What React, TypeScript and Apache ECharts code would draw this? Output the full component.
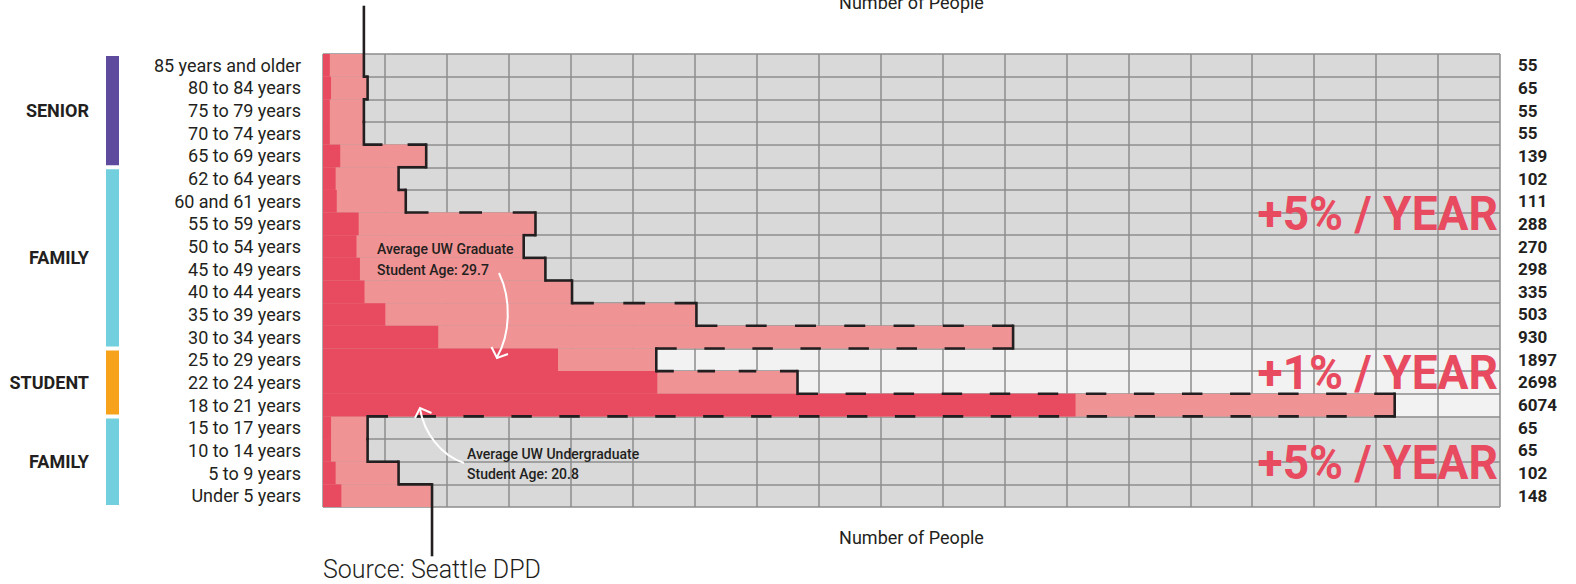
import React, { useEffect, useRef } from "react";
import * as echarts from "echarts";

// ---------- data ----------
const ageGroups = [
  "85 years and older",
  "80 to 84 years",
  "75 to 79 years",
  "70 to 74 years",
  "65 to 69 years",
  "62 to 64 years",
  "60 and 61 years",
  "55 to 59 years",
  "50 to 54 years",
  "45 to 49 years",
  "40 to 44 years",
  "35 to 39 years",
  "30 to 34 years",
  "25 to 29 years",
  "22 to 24 years",
  "18 to 21 years",
  "15 to 17 years",
  "10 to 14 years",
  "5 to 9 years",
  "Under 5 years",
];

// current number of people (dark bars, numbers on the right)
const currentPeople = [55, 65, 55, 55, 139, 102, 111, 288, 270, 298, 335, 503, 930, 1897, 2698, 6074, 65, 65, 102, 148];

// projected number of people (light bars + dashed outline)
const projectedPeople = [330, 360, 330, 330, 833, 610, 668, 1715, 1620, 1795, 2010, 3014, 5570, 2690, 3830, 8650, 360, 360, 610, 880];

// axis of number of people
const axisMin = 0;
const axisMax = 9500;
const axisStep = 500;

// life-stage groups
const groupNames = ["SENIOR", "FAMILY", "STUDENT", "FAMILY"];
const groupFirst = ["85 years and older", "62 to 64 years", "25 to 29 years", "15 to 17 years"];
const groupLast = ["65 to 69 years", "30 to 34 years", "18 to 21 years", "Under 5 years"];

const growthLabels = ["+5% / YEAR", "+1% / YEAR", "+5% / YEAR"];

const axisTitle = "Number of People";
const sourceText = "Source: Seattle DPD";
const gradNote = ["Average UW Graduate", "Student Age: 29.7"];
const undergradNote = ["Average UW Undergraduate", "Student Age: 20.8"];

// ---------- styles ----------
const GROUP_COLORS: Record<string, string> = {
  SENIOR: "#5f4b9d",
  FAMILY: "#72cfde",
  STUDENT: "#f7a21b",
};
const DARK_RED = "#e84a5f";
const LIGHT_RED = "#f09394";
const INK = "#231f20";
const FONT = "Roboto";

export default function App() {
  const ref = useRef<HTMLDivElement>(null);

  useEffect(() => {
    if (!ref.current) return;
    const chart = echarts.init(ref.current, null, { renderer: "svg" });
    const n = ageGroups.length;

    const studentRow = ageGroups.map(() => false);
    groupNames.forEach((g, k) => {
      if (g === "STUDENT") {
        const a = ageGroups.indexOf(groupFirst[k]);
        const b = ageGroups.indexOf(groupLast[k]);
        for (let i = a; i <= b; i++) studentRow[i] = true;
      }
    });

    const gridLine = { color: "#8c8c8c", width: 1.5 };

    const option: any = {
      animation: false,
      backgroundColor: "#ffffff",
      textStyle: { fontFamily: FONT },
      grid: { left: 323, right: 76, top: 54, bottom: 77, containLabel: false, outerBoundsMode: "none" },
      xAxis: [
        {
          type: "value",
          min: axisMin,
          max: axisMax,
          interval: axisStep,
          position: "bottom",
          z: 1,
          axisLine: { show: false },
          axisTick: { show: false },
          axisLabel: { show: false },
          splitLine: { show: true, lineStyle: gridLine },
          name: axisTitle,
          nameLocation: "middle",
          nameGap: 21,
          nameTextStyle: { fontSize: 18, color: INK, fontFamily: FONT },
        },
        {
          type: "value",
          min: axisMin,
          max: axisMax,
          interval: axisStep,
          position: "top",
          z: 1,
          axisLine: { show: false },
          axisTick: { show: false },
          axisLabel: { show: false },
          splitLine: { show: false },
          name: axisTitle,
          nameLocation: "middle",
          nameGap: 43,
          nameTextStyle: { fontSize: 18, color: INK, fontFamily: FONT },
        },
      ],
      yAxis: [
        {
          type: "category",
          data: ageGroups,
          inverse: true,
          position: "left",
          z: 1,
          axisLine: { show: false },
          axisTick: { show: false },
          axisLabel: { interval: 0, margin: 22, fontSize: 18, color: INK, fontFamily: FONT },
          splitLine: { show: true, interval: 0, lineStyle: gridLine },
        },
        {
          type: "category",
          data: currentPeople.map((v) => String(v)),
          inverse: true,
          position: "right",
          z: 1,
          axisLine: { show: false },
          axisTick: { show: false },
          axisLabel: {
            interval: 0,
            margin: 18,
            fontSize: 17,
            fontWeight: "bold",
            color: INK,
            fontFamily: FONT,
          },
          splitLine: { show: false },
        },
      ],
      series: [
        {
          type: "custom",
          name: "rows",
          z: 0,
          silent: true,
          xAxisIndex: 0,
          yAxisIndex: 0,
          data: ageGroups.map((_, i) => [axisMin, i]),
          encode: { x: 0, y: 1 },
          renderItem: (params: any, api: any) => {
            const i = api.value(1);
            const p0 = api.coord([axisMin, i]);
            const p1 = api.coord([axisMax, i]);
            const bh = api.size([0, 1])[1];
            return {
              type: "rect",
              shape: { x: p0[0], y: p0[1] - bh / 2, width: p1[0] - p0[0], height: bh },
              style: { fill: studentRow[i] ? "#f2f2f2" : "#d9d9d9" },
            };
          },
        },
        {
          type: "bar",
          name: "projected",
          z: 2,
          xAxisIndex: 0,
          yAxisIndex: 0,
          data: projectedPeople,
          barGap: "-100%",
          barCategoryGap: "0%",
          itemStyle: { color: LIGHT_RED },
          silent: true,
        },
        {
          type: "bar",
          name: "current",
          z: 2,
          xAxisIndex: 0,
          yAxisIndex: 0,
          data: currentPeople,
          barGap: "-100%",
          barCategoryGap: "0%",
          itemStyle: { color: DARK_RED },
          silent: true,
        },
        {
          type: "custom",
          name: "outline",
          z: 4,
          silent: true,
          xAxisIndex: 0,
          yAxisIndex: 0,
          data: projectedPeople.map((v, i) => [v, i, i < n - 1 ? projectedPeople[i + 1] : v]),
          encode: { x: 0, y: 1 },
          renderItem: (params: any, api: any) => {
            const i = params.dataIndex;
            const p = api.coord([api.value(0), i]);
            const bh = api.size([0, 1])[1];
            const x = p[0];
            const top = p[1] - bh / 2;
            const bottom = p[1] + bh / 2;
            const lw = 2.6;
            const children: any[] = [];
            const y0 = i === 0 ? top - 47 : top;
            const y1 = i === n - 1 ? bottom + 48 : bottom;
            children.push({
              type: "line",
              shape: { x1: x, y1: y0, x2: x, y2: y1 },
              style: { stroke: INK, lineWidth: lw, lineCap: "square" },
            });
            if (i < n - 1) {
              const xn = api.coord([api.value(2), i + 1])[0];
              const L = Math.abs(xn - x);
              let lineDash: any = null;
              if (L > 40) {
                const cnt = Math.max(2, Math.round((L + 27) / 47));
                const s = L / (cnt * 20 + (cnt - 1) * 27);
                lineDash = [20 * s, 27 * s];
              }
              children.push({
                type: "line",
                shape: { x1: x, y1: bottom, x2: xn, y2: bottom },
                style: { stroke: INK, lineWidth: lw, lineDash: lineDash, lineCap: "butt" },
              });
            }
            return { type: "group", children };
          },
        },
        {
          type: "custom",
          name: "groups",
          z: 4,
          silent: true,
          xAxisIndex: 0,
          yAxisIndex: 0,
          data: groupNames.map((g, k) => [axisMin, ageGroups.indexOf(groupFirst[k]), ageGroups.indexOf(groupLast[k])]),
          encode: { x: 0, y: [1, 2] },
          renderItem: (params: any, api: any) => {
            const k = params.dataIndex;
            const bh = api.size([0, 1])[1];
            const yTop = api.coord([axisMin, api.value(1)])[1] - bh / 2 + 2;
            const yBot = api.coord([axisMin, api.value(2)])[1] + bh / 2 - 2;
            const name = groupNames[k];
            return {
              type: "group",
              children: [
                {
                  type: "rect",
                  shape: { x: 106, y: yTop, width: 13, height: yBot - yTop },
                  style: { fill: GROUP_COLORS[name] },
                },
                {
                  type: "text",
                  style: {
                    text: name,
                    x: 89,
                    y: (yTop + yBot) / 2,
                    align: "right",
                    verticalAlign: "middle",
                    font: `bold 18px ${FONT}`,
                    fill: INK,
                  },
                },
              ],
            };
          },
        },
      ],
      graphic: [
        ...growthLabels.map((t, k) => ({
          type: "text",
          z: 20,
          silent: true,
          x: 1498,
          y: [214, 373, 463][k],
          scaleX: 0.94,
          style: {
            text: t,
            align: "right",
            verticalAlign: "middle",
            font: `bold 49px ${FONT}`,
            fill: DARK_RED,
          },
        })),
        ...gradNote.map((t, k) => ({
          type: "text",
          z: 20,
          silent: true,
          x: 377,
          y: 249 + k * 21,
          style: { text: t, align: "left", verticalAlign: "middle", font: `500 14px ${FONT}`, fill: INK },
        })),
        ...undergradNote.map((t, k) => ({
          type: "text",
          z: 20,
          silent: true,
          x: 467,
          y: 454 + k * 20,
          style: { text: t, align: "left", verticalAlign: "middle", font: `500 14px ${FONT}`, fill: INK },
        })),
        {
          type: "bezierCurve",
          z: 20,
          silent: true,
          shape: { x1: 499, y1: 273, cpx1: 512, cpy1: 300, cpx2: 510, cpy2: 335, x2: 497, y2: 357 },
          style: { stroke: "#ffffff", lineWidth: 2, fill: "none" },
        },
        {
          type: "polyline",
          z: 20,
          silent: true,
          shape: { points: [[491.5, 347], [497, 358], [508, 354]] },
          style: { stroke: "#ffffff", lineWidth: 2, fill: "none" },
        },
        {
          type: "bezierCurve",
          z: 20,
          silent: true,
          shape: { x1: 464, y1: 463, cpx1: 440, cpy1: 455, cpx2: 424, cpy2: 432, x2: 420, y2: 409 },
          style: { stroke: "#ffffff", lineWidth: 2, fill: "none" },
        },
        {
          type: "polyline",
          z: 20,
          silent: true,
          shape: { points: [[415, 418], [420, 408], [431.5, 413]] },
          style: { stroke: "#ffffff", lineWidth: 2, fill: "none" },
        },
        {
          type: "text",
          z: 20,
          silent: true,
          x: 323,
          y: 569,
          style: { text: sourceText, align: "left", verticalAlign: "middle", font: `300 25px ${FONT}`, fill: INK },
        },
      ],
    };

    chart.setOption(option);
    return () => {
      chart.dispose();
    };
  }, []);

  return (
    <div
      ref={ref}
      style={{ position: "fixed", left: 0, top: 0, width: 1576, height: 584, background: "#fff" }}
    />
  );
}
